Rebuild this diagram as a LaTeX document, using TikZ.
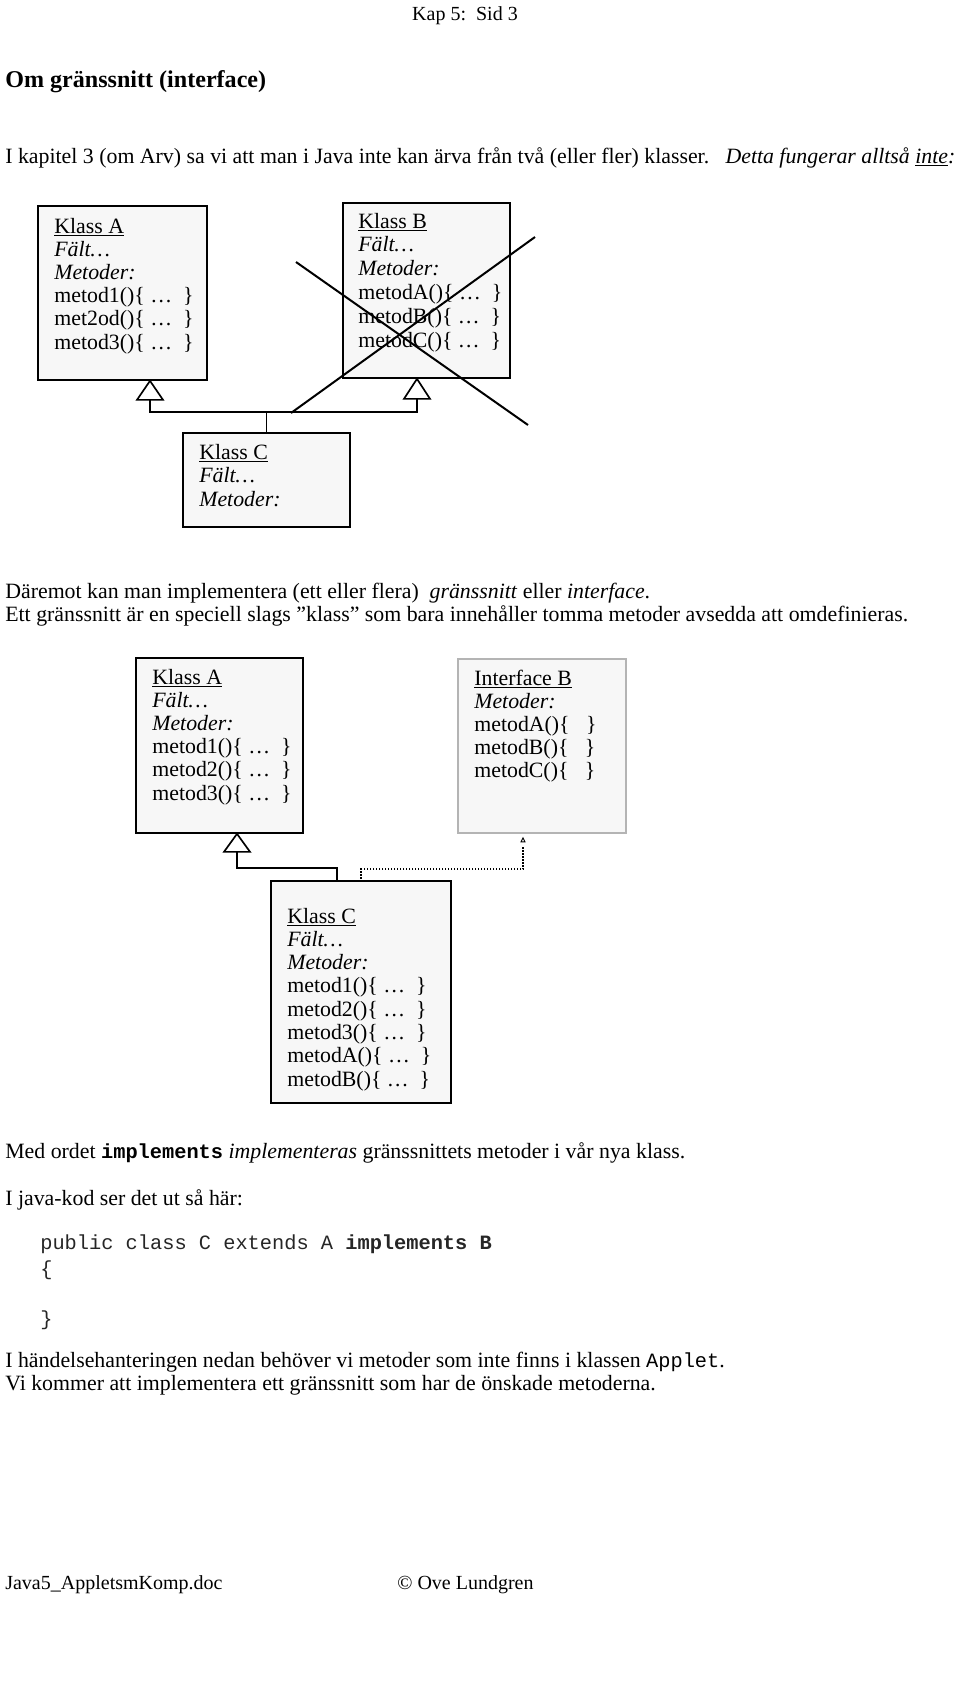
\documentclass[tikz,border=0pt]{standalone}
\usepackage{fontspec}
\setmainfont{Liberation Serif}
\setmonofont{Liberation Mono}
\definecolor{boxfill}{HTML}{F7F7F7}
\definecolor{ifgray}{HTML}{B4B4B4}
\newcommand{\mytt}[1]{{\fontsize{12.2}{13.9}\ttfamily #1}}
\begin{document}
\begin{tikzpicture}[x=0.6pt,y=-0.6pt,
  txt/.style={anchor=base west, inner sep=0pt, font=\fontsize{13.1}{15}\selectfont},
  smalltxt/.style={anchor=base west, inner sep=0pt, font=\fontsize{12}{14}\selectfont},
  codetxt/.style={anchor=base west, inner sep=0pt, text=black!85, font=\fontsize{12.2}{13.9}\ttfamily},
  cls/.style={draw=black, line width=1pt, fill=boxfill, inner sep=0pt},
  ifc/.style={draw=ifgray, line width=1pt, fill=boxfill, inner sep=0pt},
  link/.style={draw=black, line width=1pt},
  dotlink/.style={draw=black, line width=0.9pt, dash pattern=on 0.9pt off 0.9pt},
  tri/.style={draw=black, line width=1pt, fill=white},
  cross/.style={draw=black, line width=1.2pt}]
\useasboundingbox (0,0) rectangle (960,1688);
\fill[white] (0,0) rectangle (960,1688);

% header
\node[smalltxt, anchor=base] (hdr) at (465,20) {Kap 5:\ \ Sid 3};
\node[anchor=base west, inner sep=0pt, font=\fontsize{14.45}{16}\selectfont\bfseries] (title) at (5,87) {Om gränssnitt (interface)};
\node[txt] (l1) at (5,163) {I kapitel 3 (om Arv) sa vi att man i Java inte kan ärva från två (eller fler) klasser.\ \ \ \textit{Detta fungerar alltså \underline{inte}:}};

% diagram 1
\node[cls, minimum width=169*0.6pt, minimum height=174*0.6pt] (k1a) at (122.5,293) {};
\node[cls, minimum width=167*0.6pt, minimum height=175*0.6pt] (k1b) at (426.5,290.5) {};
\node[cls, minimum width=167*0.6pt, minimum height=94*0.6pt] (k1c) at (266.5,480) {};
\foreach \t [count=\i from 0] in {{\underline{Klass A}},{\textit{Fält…}},{\textit{Metoder:}},{metod1()\{ …\ \ \}},{met2od()\{ …\ \ \}},{metod3()\{ …\ \ \}}}
  \node[txt] (k1at\i) at (54,233+23.2*\i) {\t};
\foreach \t [count=\i from 0] in {{\underline{Klass B}},{\textit{Fält…}},{\textit{Metoder:}},{metodA()\{ …\ \ \}},{metodB()\{ …\ \ \}},{metodC()\{ …\ \ \}}}
  \node[txt] (k1bt\i) at (358,228+23.8*\i) {\t};
\foreach \t [count=\i from 0] in {{\underline{Klass C}},{\textit{Fält…}},{\textit{Metoder:}}}
  \node[txt] (k1ct\i) at (199,459+23.5*\i) {\t};
% cross over Klass B
\coordinate (x1s) at (296,262); \coordinate (x1e) at (528,425);
\coordinate (x2s) at (291,413); \coordinate (x2e) at (535,237);
\draw[cross] (x1s) -- (x1e);
\draw[cross] (x2s) -- (x2e);
% inheritance
\coordinate (ta1) at (150,400);
\coordinate (tb1) at (417,398);
\draw[link] (ta1) -- ++(0,12) -| (k1c.north);
\draw[link] (tb1) -- ++(0,14) -| (k1c.north);
\draw[tri] (k1a.south -| ta1) -- ++(-13,19) -- ++(26,0) -- cycle;
\draw[tri] (k1b.south -| tb1) -- ++(-13,20) -- ++(26,0) -- cycle;

% text between
\node[txt] (l2) at (5,598) {Däremot kan man implementera (ett eller flera)\ \ \textit{gränssnitt} eller \textit{interface}.};
\node[txt] (l3) at (5,621) {Ett gränssnitt är en speciell slags ”klass” som bara innehåller tomma metoder avsedda att omdefinieras.};

% diagram 2
\node[cls, minimum width=167*0.6pt, minimum height=175*0.6pt] (k2a) at (219.5,745.5) {};
\node[ifc, minimum width=168*0.6pt, minimum height=174*0.6pt] (i2b) at (542,746) {};
\node[cls, minimum width=180*0.6pt, minimum height=222*0.6pt] (k2c) at (361,992) {};
\foreach \t [count=\i from 0] in {{\underline{Klass A}},{\textit{Fält…}},{\textit{Metoder:}},{metod1()\{ …\ \ \}},{metod2()\{ …\ \ \}},{metod3()\{ …\ \ \}}}
  \node[txt] (k2at\i) at (152,684+23.2*\i) {\t};
\foreach \t [count=\i from 0] in {{\underline{Interface B}},{\textit{Metoder:}},{metodA()\{\ \ \ \}},{metodB()\{\ \ \ \}},{metodC()\{\ \ \ \}}}
  \node[txt] (i2bt\i) at (474,685+23.2*\i) {\t};
\foreach \t [count=\i from 0] in {{\underline{Klass C}},{\textit{Fält…}},{\textit{Metoder:}},{metod1()\{ …\ \ \}},{metod2()\{ …\ \ \}},{metod3()\{ …\ \ \}},{metodA()\{ …\ \ \}},{metodB()\{ …\ \ \}}}
  \node[txt] (k2ct\i) at (287,923+23.3*\i) {\t};
\coordinate (ta2) at (237,851);
\coordinate (ti2) at (523,847);
\draw[link] (ta2) -- ++(0,17) -| ([xshift=-24*0.6pt]k2c.north);
\draw[tri] (k2a.south -| ta2) -- ++(-13,18) -- ++(26,0) -- cycle;
\draw[dotlink] (ti2) -- ++(0,22) -| (k2c.north);
\draw[draw=black, line width=0.5pt, fill=white] ([yshift=-4*0.6pt]i2b.south -| ti2) -- ++(-2,4) -- ++(4,0) -- cycle;

% text after
\node[txt] (l4) at (5,1158) {Med ordet \mytt{\bfseries implements} \textit{implementeras} gränssnittets metoder i vår nya klass.};
\node[txt] (l5) at (5,1205) {I java-kod ser det ut så här:};
\node[codetxt] (c1) at (40,1249) {public class C extends A \textbf{implements B}};
\node[codetxt] (c2) at (40,1275) {\{};
\node[codetxt] (c3) at (40,1325) {\}};
\node[txt] (l6) at (5,1367) {I händelsehanteringen nedan behöver vi metoder som inte finns i klassen \mytt{Applet}.};
\node[txt] (l7) at (5,1390) {Vi kommer att implementera ett gränssnitt som har de önskade metoderna.};

% footer
\node[smalltxt] (f1) at (5,1589) {Java5\_AppletsmKomp.doc};
\node[smalltxt] (f2) at (397,1589) {© Ove Lundgren};
\end{tikzpicture}
\end{document}
